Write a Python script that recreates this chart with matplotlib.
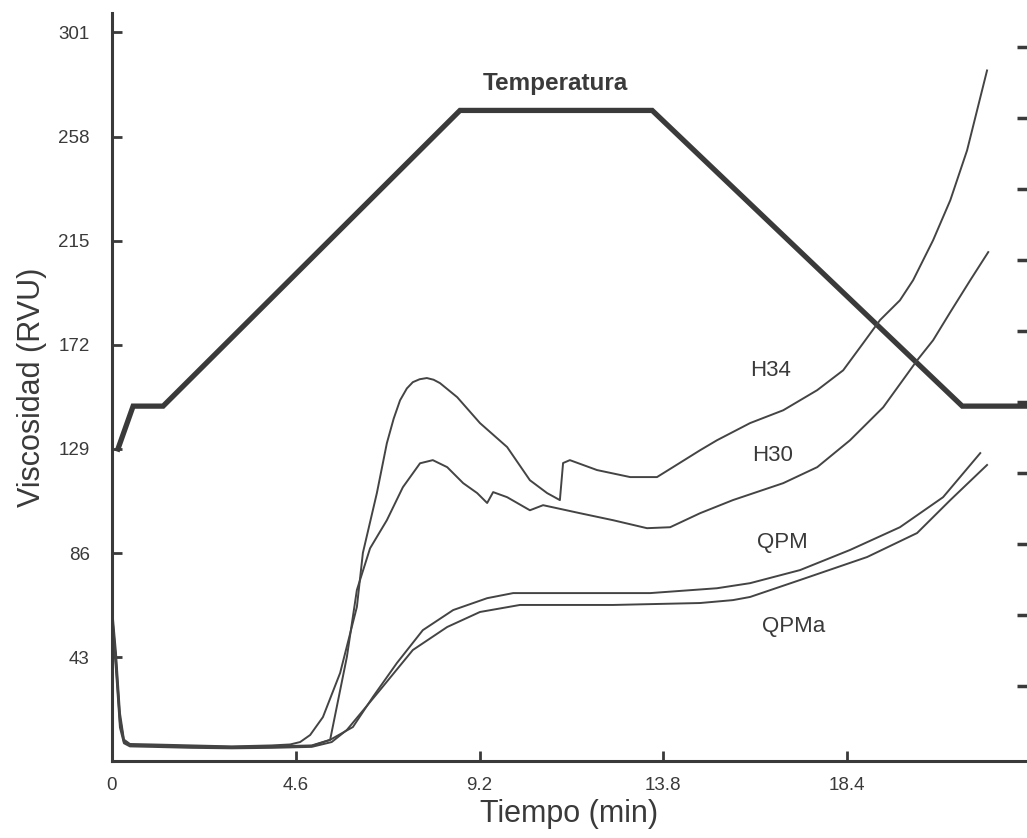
"""RVA pasting profiles (viscosity vs time) with the temperature program."""
import matplotlib
matplotlib.use("Agg")
import numpy as np
import matplotlib.pyplot as plt

plt.rcParams["font.family"] = ["Liberation Sans", "DejaVu Sans"]

# tick labels
x_ticks = [0, 4.6, 9.2, 13.8, 18.4]
x_tick_labels = ["0", "4.6", "9.2", "13.8", "18.4"]
y_ticks = [43, 86, 129, 172, 215, 258, 301]
right_ticks = [31.3, 60.6, 89.9, 119.2, 148.5, 177.8, 207.1, 236.4, 265.7, 295.0]

# temperature program (drawn on the viscosity scale)
temp_t = [0.15, 0.53, 1.28, 8.71, 13.52, 21.28, 22.9]
temp_v = [129.0, 146.7, 146.7, 268.8, 268.8, 146.7, 146.7]

# viscosity curves (time in min, RVU)
h34_t = [0.02, 0.1, 0.2, 0.3, 0.45, 1.0, 2.0, 3.0, 4.0, 4.46, 4.71, 4.96, 5.28,
         5.71, 6.13, 6.28, 6.63, 6.88, 7.05, 7.21, 7.38, 7.53, 7.70, 7.88, 8.05,
         8.21, 8.64, 9.21, 9.89, 10.46, 10.89, 11.21, 11.29, 11.46, 12.14, 12.97,
         13.64, 14.04, 14.72, 15.14, 15.97, 16.80, 17.65, 18.30, 18.80, 19.22,
         19.72, 20.05, 20.55, 20.98, 21.40, 21.90]
h34_v = [60.0, 45.0, 20.0, 9.0, 7.2, 7.0, 6.6, 6.2, 6.6, 7.0, 8.0, 10.9, 18.3,
         36.5, 63.8, 86.1, 110.8, 131.4, 141.5, 149.1, 154.0, 156.6, 157.8, 158.3,
         157.6, 156.2, 150.4, 139.7, 129.8, 116.1, 110.8, 107.9, 123.2, 124.4,
         120.3, 117.4, 117.4, 121.5, 128.5, 132.6, 139.7, 145.0, 153.3, 161.5,
         172.7, 182.2, 190.4, 198.7, 215.2, 231.7, 252.3, 285.3]

h30_t = [0.02, 0.1, 0.2, 0.3, 0.45, 1.0, 2.0, 3.0, 4.0, 5.0, 5.46, 5.88, 6.13,
         6.46, 6.88, 7.28, 7.71, 8.03, 8.39, 8.79, 9.14, 9.39, 9.54, 9.89, 10.46,
         10.79, 11.71, 12.54, 13.39, 13.97, 14.72, 15.54, 16.80, 17.65, 18.47,
         19.30, 20.15, 20.55, 20.98, 21.48, 21.93]
h30_v = [58.0, 42.0, 18.0, 8.5, 6.8, 6.6, 6.3, 6.0, 6.2, 6.6, 8.9, 43.2, 70.8,
         88.0, 99.6, 113.2, 123.1, 124.4, 121.5, 114.9, 110.8, 106.7, 111.2,
         109.1, 103.7, 105.8, 102.5, 99.6, 96.3, 96.7, 102.5, 107.9, 114.9, 121.5,
         132.6, 146.2, 165.6, 173.9, 185.5, 198.7, 210.3]

qpm_t = [0.02, 0.1, 0.2, 0.3, 0.45, 1.0, 2.0, 3.0, 4.0, 5.0, 5.46, 6.03, 6.53,
         7.13, 7.78, 8.54, 9.39, 10.04, 11.71, 13.47, 15.14, 15.97, 17.22, 18.47,
         19.72, 20.80, 21.73]
qpm_v = [56.0, 40.0, 16.0, 8.0, 6.6, 6.4, 6.0, 5.8, 6.0, 6.4, 8.9, 14.2, 26.6,
         40.6, 54.2, 62.5, 67.4, 69.5, 69.5, 69.5, 71.5, 73.6, 79.0, 87.3, 96.7,
         109.1, 127.3]

qpma_t = [0.02, 0.1, 0.2, 0.3, 0.45, 1.0, 2.0, 3.0, 4.0, 5.0, 5.5, 5.88, 6.71,
          7.53, 8.39, 9.21, 10.21, 12.54, 14.72, 15.54, 15.97, 17.22, 18.90,
          20.15, 20.98, 21.90]
qpma_v = [55.0, 38.0, 14.0, 7.5, 6.2, 6.0, 5.6, 5.4, 5.6, 6.0, 8.0, 13.0, 29.5,
          46.0, 55.5, 61.7, 64.6, 64.6, 65.4, 66.6, 67.9, 74.9, 84.4, 94.3,
          107.9, 122.4]

curve_labels = ["H34", "H30", "QPM", "QPMa"]
label_t = [16.47, 16.52, 16.77, 17.05]
label_v = [161.5, 126.5, 90.2, 55.5]

ink = "#3a3a3a"

fig = plt.figure(figsize=(10.27, 8.38), dpi=100)
ax = fig.add_axes([0.109, 0.0914, 0.891, 0.893])
ax.set_xlim(0, 22.9)
ax.set_ylim(0, 309)

ax.plot(temp_t, temp_v, color=ink, lw=3.8, solid_joinstyle="miter")
for t, v in [(h34_t, h34_v), (h30_t, h30_v), (qpm_t, qpm_v), (qpma_t, qpma_v)]:
    ax.plot(t, v, color="#444444", lw=1.4)

ax.text(11.09, 280, "Temperatura", ha="center", va="center",
        fontsize=17.5, fontweight="bold", color=ink)
for name, t, v in zip(curve_labels, label_t, label_v):
    ax.text(t, v, name, ha="center", va="center", fontsize=16, color=ink)

ax.set_xticks(x_ticks)
ax.set_xticklabels(x_tick_labels)
ax.set_yticks(y_ticks)
ax.tick_params(axis="both", direction="in", length=7, width=2, color=ink,
               labelsize=13.5, labelcolor=ink)
ax.tick_params(axis="x", pad=11)
ax.tick_params(axis="y", pad=16)

for side in ["left", "bottom"]:
    ax.spines[side].set_linewidth(2.2)
    ax.spines[side].set_color(ink)
ax.spines["top"].set_visible(False)
ax.spines["right"].set_visible(False)

# unlabelled ticks on the right edge
ax2 = ax.twinx()
ax2.set_ylim(ax.get_ylim())
ax2.set_yticks(right_ticks)
ax2.set_yticklabels([])
ax2.tick_params(axis="y", direction="in", length=7, width=2.5, color=ink)
for side in ["left", "right", "top", "bottom"]:
    ax2.spines[side].set_visible(False)

ax.set_xlabel("Tiempo (min)", fontsize=22, color=ink, labelpad=4)
ax.set_ylabel("Viscosidad (RVU)", fontsize=22, color=ink, labelpad=8)

fig.savefig("out.png", dpi=100)
